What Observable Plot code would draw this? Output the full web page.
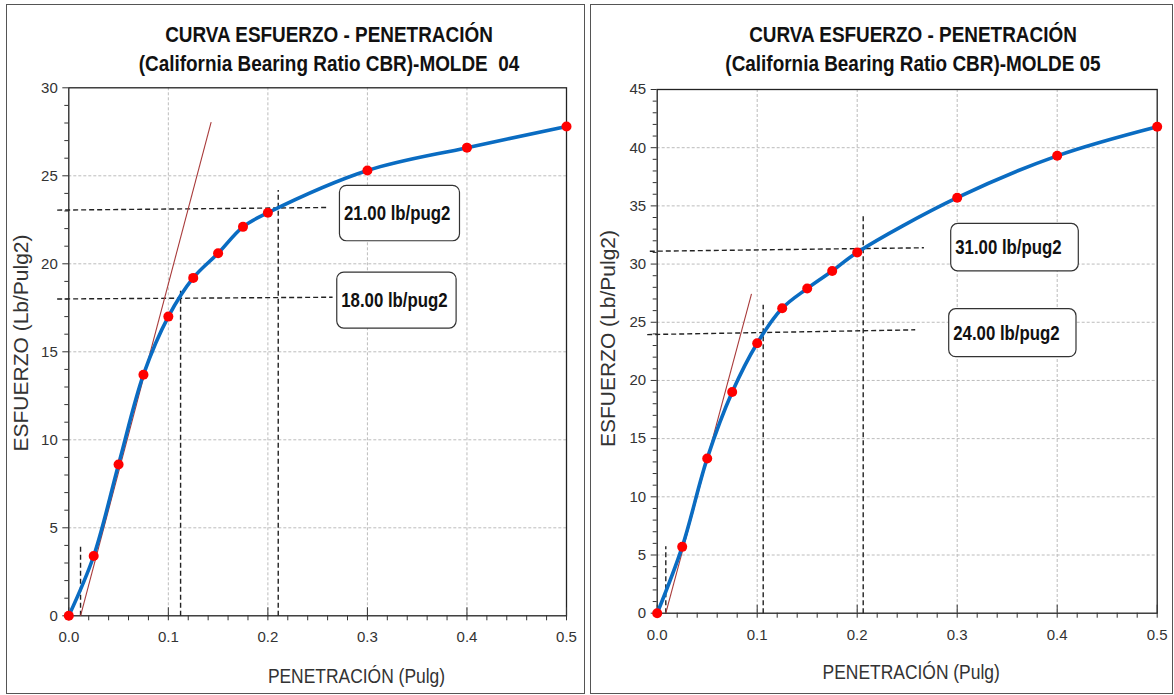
<!DOCTYPE html>
<html><head><meta charset="utf-8">
<script src="https://cdn.jsdelivr.net/npm/d3@7"></script>
<script src="https://cdn.jsdelivr.net/npm/@observablehq/plot@0.6"></script>
<style>
body{margin:0;background:#fff;width:1174px;height:695px;position:relative;overflow:hidden;font-family:"Liberation Sans",Arial,sans-serif;}
.panel{position:absolute;border:1.5px solid #555;box-sizing:border-box;background:#fff}
.title{position:absolute;width:600px;text-align:center;font-family:"Liberation Sans",Arial,sans-serif;font-weight:bold;font-size:22px;color:#111;line-height:29px;white-space:pre;transform:scaleX(0.86);transform-origin:50% 50%}
.chart{position:absolute}
</style></head><body>
<div class="panel" style="left:6px;top:4px;width:579px;height:690px"></div>
<div class="panel" style="left:590px;top:4px;width:583px;height:690px"></div>
<div id="t1a" class="title" style="left:29px;top:20px"></div>
<div id="t1b" class="title" style="left:29px;top:49px"></div>
<div id="t2a" class="title" style="left:613px;top:20px"></div>
<div id="t2b" class="title" style="left:613px;top:49px"></div>
<div id="c1" class="chart" style="left:6px;top:78px"></div>
<div id="c2" class="chart" style="left:591px;top:78px"></div>
<script>
// ---- data ----
const titulo = "CURVA ESFUERZO - PENETRACIÓN";
const subtitulo04 = "(California Bearing Ratio CBR)-MOLDE  04";
const subtitulo05 = "(California Bearing Ratio CBR)-MOLDE 05";

const penetracion = [0, 0.025, 0.05, 0.075, 0.1, 0.125, 0.15, 0.175, 0.2, 0.3, 0.4, 0.5];
const esfuerzo04 = [0, 3.4, 8.6, 13.7, 17.0, 19.2, 20.6, 22.1, 22.9, 25.3, 26.6, 27.8];
const esfuerzo05 = [0, 5.7, 13.3, 19.0, 23.2, 26.2, 27.9, 29.4, 31.0, 35.7, 39.3, 41.8];

const xTickLabels = [0, 0.1, 0.2, 0.3, 0.4, 0.5];
const xMinorTicks = [0.02,0.04,0.06,0.08,0.12,0.14,0.16,0.18,0.22,0.24,0.26,0.28,0.32,0.34,0.36,0.38,0.42,0.44,0.46,0.48];
const yTicks04 = [0, 5, 10, 15, 20, 25, 30];
const yTicks05 = [0, 5, 10, 15, 20, 25, 30, 35, 40, 45];

// tangent (corrección) lines
const tangente04 = [{x1: 0.0118, y1: 0, x2: 0.143, y2: 28.05}];
const tangente05 = [{x1: 0.0086, y1: 0, x2: 0.0943, y2: 27.44}];

// dashed guide lines
const guias04 = [
  {x1: -0.0117, y1: 23.05, x2: 0.261, y2: 23.2},
  {x1: -0.0117, y1: 18.0, x2: 0.265, y2: 18.1},
  {x1: 0.1123, y1: 0, x2: 0.1123, y2: 18.5},
  {x1: 0.2104, y1: 0, x2: 0.2104, y2: 24.2},
  {x1: 0.0118, y1: 0, x2: 0.0118, y2: 4.05}
];
const guias05 = [
  {x1: -0.0074, y1: 31.1, x2: 0.2667, y2: 31.4},
  {x1: -0.0100, y1: 23.94, x2: 0.258, y2: 24.35},
  {x1: 0.106, y1: 0, x2: 0.106, y2: 26.5},
  {x1: 0.206, y1: 0, x2: 0.206, y2: 34.17},
  {x1: 0.0086, y1: 0, x2: 0.0086, y2: 5.76}
];

// label boxes
const cajas04 = [
  {text: "21.00 lb/pug2", x1: 0.2724, x2: 0.393, y1: 21.28, y2: 24.43},
  {text: "18.00 lb/pug2", x1: 0.2697, x2: 0.3896, y1: 16.32, y2: 19.5}
];
const cajas05 = [
  {text: "31.00 lb/pug2", x1: 0.294, x2: 0.4216, y1: 29.38, y2: 33.45},
  {text: "24.00 lb/pug2", x1: 0.292, x2: 0.4193, y1: 22.0, y2: 26.12}
];

const yLabel = "ESFUERZO (Lb/Pulg2)";
const xLabel = "PENETRACIÓN (Pulg)";

document.getElementById("t1a").textContent = titulo;
document.getElementById("t1b").textContent = subtitulo04;
document.getElementById("t2a").textContent = titulo;
document.getElementById("t2b").textContent = subtitulo05;

function chart(cfg) {
  const pts = penetracion.map((x, i) => ({x, y: cfg.values[i]}));
  const yMax = cfg.yTicks[cfg.yTicks.length - 1];
  const yMinor = d3.range(0, yMax + 1).filter(v => v % 5 !== 0);
  const yGrid = cfg.yTicks.filter(v => v > 0 && v < yMax);
  return Plot.plot({
    width: cfg.width, height: cfg.height,
    marginLeft: cfg.ml, marginRight: cfg.mr, marginTop: cfg.mt, marginBottom: cfg.mb,
    x: {domain: [0, 0.5]},
    y: {domain: [0, yMax]},
    style: {fontFamily: '"Liberation Sans",Arial,sans-serif', fontSize: "15px", color: "#333", background: "transparent", overflow: "visible"},
    marks: [
      Plot.gridX([0.1, 0.2, 0.3, 0.4], {stroke: "#bcbcbc", strokeOpacity: 1, strokeDasharray: "3,2"}),
      Plot.gridY(yGrid, {stroke: "#bcbcbc", strokeOpacity: 1, strokeDasharray: "3,2"}),
      Plot.frame({stroke: "#222", strokeWidth: 1.3}),
      Plot.axisY({ticks: yMinor, tickSize: 4, text: null, label: null, stroke: "#333"}),
      Plot.axisY({ticks: cfg.yTicks, tickSize: 6, tickPadding: 5, label: null, tickFormat: d => String(d), stroke: "#333"}),
      Plot.axisX({ticks: xMinorTicks, tickSize: 5, text: null, label: null, stroke: "#333"}),
      Plot.axisX({ticks: xTickLabels, tickSize: 13, dy: -8, text: null, label: null, stroke: "#333"}),
      Plot.axisX({ticks: xTickLabels, tickSize: 0, tickPadding: 16, label: null, tickFormat: d => d.toFixed(1)}),
      Plot.link(cfg.guias, {x1: "x1", y1: "y1", x2: "x2", y2: "y2", stroke: "#222", strokeWidth: 1.4, strokeDasharray: "5,3"}),
      Plot.link(cfg.tangente, {x1: "x1", y1: "y1", x2: "x2", y2: "y2", stroke: "#a83a3a", strokeWidth: 1.1}),
      Plot.line(pts, {x: "x", y: "y", curve: "catmull-rom", stroke: "#0a6cc2", strokeWidth: 3.6}),
      Plot.dot(pts, {x: "x", y: "y", r: 5, fill: "#ff0000", stroke: "none"}),
      Plot.rect(cfg.cajas, {x1: "x1", x2: "x2", y1: "y1", y2: "y2", fill: "white", stroke: "#333", strokeWidth: 1.2, rx: 7}),
      Plot.text(cfg.cajas, {x: "x1", y: d => (d.y1 + d.y2) / 2, text: "text", textAnchor: "start", dx: 4, fontWeight: "bold", fontSize: 20, fill: "#111"}),
      Plot.text([yLabel], {frameAnchor: "left", y: cfg.yLabelY, dx: cfg.yLabelDx, rotate: -90, text: d => d, textAnchor: "middle", lineAnchor: "middle", fontSize: 21, fill: "#333"}),
      Plot.text([xLabel], {frameAnchor: "bottom", x: cfg.xLabelX, dy: cfg.xLabelDy, text: d => d, textAnchor: "middle", lineAnchor: "middle", fontSize: 21, fill: "#333"})
    ]
  });
}

// condense horizontal texts to mimic the narrow rendering of the original
function condense(svg, strings, factor) {
  svg.querySelectorAll("text").forEach(t => {
    if (strings.includes(t.textContent)) {
      const w = t.getComputedTextLength();
      t.setAttribute("textLength", (w * factor).toFixed(1));
      t.setAttribute("lengthAdjust", "spacingAndGlyphs");
    }
  });
}

const s1 = chart({
  values: esfuerzo04, yTicks: yTicks04, guias: guias04, tangente: tangente04, cajas: cajas04,
  width: 578, height: 612, ml: 62.3, mr: 18, mt: 9.3, mb: 74.7,
  yLabelY: 15.5, yLabelDx: -47.5, xLabelX: 0.289, xLabelDy: 60
});
document.getElementById("c1").append(s1);
const s2 = chart({
  values: esfuerzo05, yTicks: yTicks05, guias: guias05, tangente: tangente05, cajas: cajas05,
  width: 580, height: 612, ml: 65.7, mr: 14.3, mt: 11, mb: 77.3,
  yLabelY: 23.6, yLabelDx: -49.2, xLabelX: 0.254, xLabelDy: 59.3
});
document.getElementById("c2").append(s2);

condense(s1, cajas04.map(d => d.text), 0.84);
condense(s2, cajas05.map(d => d.text), 0.84);
condense(s1, [xLabel], 0.83);
condense(s2, [xLabel], 0.83);
</script>
</body></html>
